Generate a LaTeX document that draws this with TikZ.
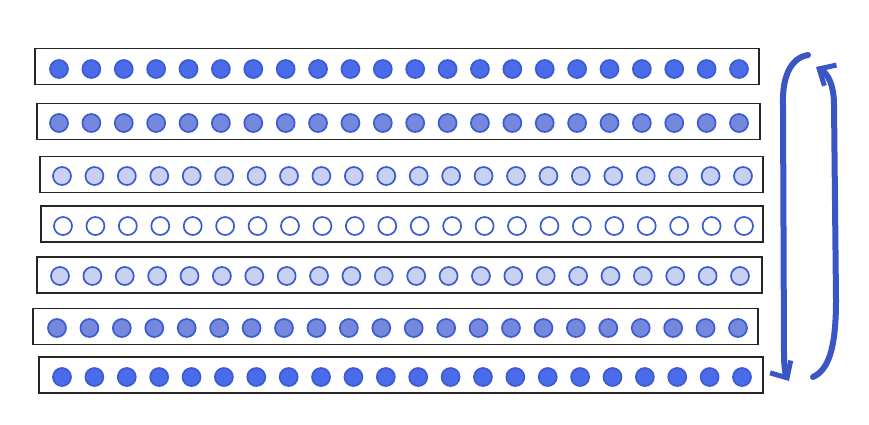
\documentclass[tikz,border=0pt]{standalone}
\usetikzlibrary{arrows.meta}
\begin{document}
\begin{tikzpicture}[x=1pt,y=-1pt]
\definecolor{dkfill}{HTML}{4A6CEB}
\definecolor{mdfill}{HTML}{7489DD}
\definecolor{ltfill}{HTML}{C9D1F1}
\definecolor{dotline}{HTML}{3D5BD0}
\definecolor{arrowblue}{HTML}{3A56C5}
\tikzset{
  rowbox/.style={draw=black!85, line width=1.9pt, fill=white, inner sep=0pt, minimum height=36pt},
  dot/.style={circle, draw=dotline, line width=1.7pt, minimum size=18pt, inner sep=0pt},
  bracketline/.style={draw=arrowblue, line width=6pt, line cap=round, line join=round,
    -{Straight Barb[length=13pt,width=24pt,line width=5pt]}}
}
\fill[white] (0,0) rectangle (869,424);
\useasboundingbox (0,0) rectangle (869,424);
% rows: index / box center x / box center y / box width / fill / first dot x / last dot x / dot y
\foreach \r/\cx/\cy/\w/\f/\xa/\xb/\dy in {
  1/397/66.5/724/dkfill/59/739/69,
  2/398.5/121.5/723/mdfill/59/739/123,
  3/401.5/174.5/723/ltfill/62/743/176,
  4/402/224/722/white/63/744/226,
  5/399.5/275/725/ltfill/60/740/276,
  6/395.5/326.5/725/mdfill/57/738/328,
  7/401/375/724/dkfill/62/742/377}{
  \node[rowbox, minimum width=\w pt] (row\r) at (\cx,\cy) {};
  \foreach \k in {0,...,21}{
    \pgfmathsetmacro{\px}{\xa+\k*(\xb-\xa)/21}
    \node[dot, fill=\f] (d\r-\k) at (\px,\dy) {};
  }
}
% double bracket arrow
\coordinate (la) at (808,55);
\coordinate (lb) at (789,381);
\coordinate (ra) at (813,377);
\coordinate (rb) at (816,67);
\draw[bracketline] (la) .. controls (790,58) and (782,78) .. (783,105) -- (784,355) .. controls (784,368) and (786,376) .. (lb);
\draw[bracketline] (ra) .. controls (828,370) and (836,350) .. (836,300) -- (834,105) .. controls (834,85) and (828,74) .. (rb);
\end{tikzpicture}
\end{document}
